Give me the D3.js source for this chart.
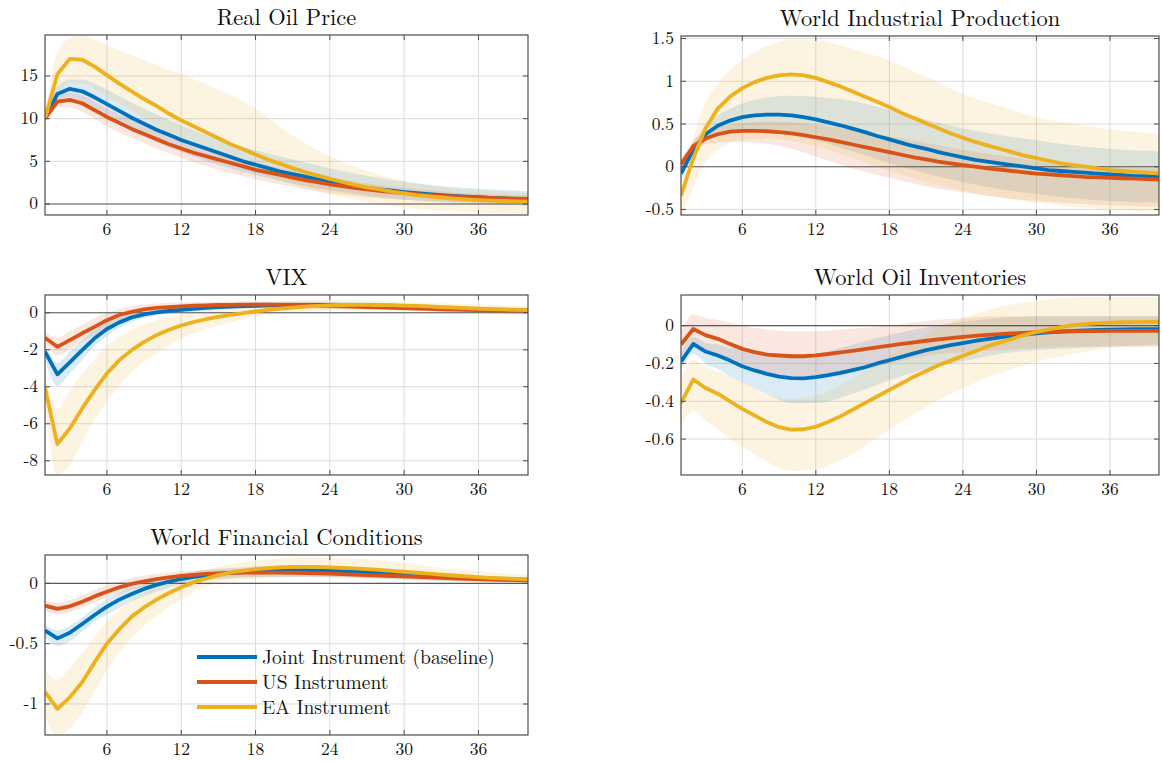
<!DOCTYPE html>
<html><head><meta charset="utf-8">
<script src="https://cdn.jsdelivr.net/npm/d3@7"></script>
<style>
body{margin:0;background:#fff;}
svg{display:block;}
</style>
</head><body>
<svg id="chart" width="1162" height="762"></svg>
<script>
// ---------- DATA ----------
const horizons = d3.range(1, 41);
const bandHorizons = [1,2,3,4,5,6,8,10,12,15,18,21,24,27,30,33,36,40];
const xTicks = [6,12,18,24,30,36];
const seriesNames = ["Joint Instrument (baseline)", "US Instrument", "EA Instrument"];

// Real Oil Price
const oilJoint = [10,12.9,13.5,13.2,12.5,11.7,10.9,10.1,9.4,8.7,8.1,7.5,7.0,6.5,6.0,5.5,5.0,4.6,4.2,3.8,3.5,3.2,2.9,2.6,2.35,2.1,1.9,1.7,1.55,1.4,1.28,1.16,1.05,0.95,0.87,0.8,0.72,0.65,0.58,0.52];
const oilUS = [10,12.0,12.2,11.8,11.0,10.2,9.5,8.8,8.2,7.6,7.0,6.5,6.0,5.6,5.2,4.8,4.4,4.0,3.7,3.4,3.1,2.8,2.55,2.3,2.1,1.9,1.7,1.55,1.4,1.27,1.15,1.05,0.96,0.88,0.81,0.75,0.7,0.66,0.62,0.6];
const oilEA = [10,15.2,17.0,16.9,16.1,15.1,14.1,13.2,12.3,11.5,10.6,9.8,9.1,8.4,7.7,7.0,6.4,5.8,5.2,4.7,4.2,3.75,3.35,2.95,2.6,2.25,1.95,1.7,1.45,1.25,1.05,0.9,0.76,0.64,0.54,0.46,0.4,0.35,0.31,0.28];
const oilJointLo = [10,12.2,12.5,12.0,11.2,10.3,8.7,7.3,6.1,4.6,3.4,2.4,1.6,1.0,0.5,0.2,0.0,-0.2];
const oilJointHi = [10,13.7,14.6,14.6,14.1,13.4,11.9,10.5,9.2,7.6,6.3,5.2,4.2,3.3,2.6,2.1,1.8,1.5];
const oilUSLo = [10,11.4,11.3,10.8,10.0,9.1,7.7,6.5,5.4,4.0,2.9,2.0,1.3,0.8,0.5,0.3,0.2,0.1];
const oilUSHi = [10,12.6,13.0,12.7,12.0,11.2,9.8,8.5,7.4,6.0,4.9,3.9,3.1,2.4,1.9,1.5,1.2,1.0];
const oilEALo = [10,12.8,14.2,14.2,13.5,12.6,10.9,9.2,7.6,5.6,3.8,2.3,1.1,0.2,-0.4,-0.8,-1.0,-1.2];
const oilEAHi = [10,17.8,19.4,19.7,19.3,18.6,17.4,16.3,15.2,13.4,11.2,8.0,5.6,3.9,2.7,2.0,1.6,1.3];

// World Industrial Production
const ipJoint = [-0.08,0.2,0.38,0.48,0.54,0.58,0.6,0.61,0.61,0.6,0.58,0.555,0.52,0.485,0.445,0.405,0.36,0.32,0.28,0.24,0.21,0.17,0.14,0.11,0.08,0.06,0.04,0.02,0.0,-0.02,-0.04,-0.05,-0.06,-0.07,-0.08,-0.09,-0.1,-0.11,-0.11,-0.12];
const ipUS = [0.03,0.24,0.33,0.38,0.41,0.42,0.42,0.415,0.405,0.39,0.37,0.345,0.32,0.29,0.26,0.23,0.2,0.17,0.14,0.11,0.085,0.06,0.04,0.02,0.0,-0.02,-0.035,-0.05,-0.065,-0.08,-0.09,-0.1,-0.11,-0.12,-0.125,-0.13,-0.135,-0.14,-0.145,-0.15];
const ipEA = [-0.34,0.1,0.45,0.68,0.82,0.92,0.99,1.04,1.07,1.08,1.07,1.04,0.99,0.94,0.88,0.82,0.76,0.7,0.63,0.57,0.51,0.45,0.39,0.34,0.29,0.25,0.21,0.17,0.13,0.1,0.07,0.04,0.02,0.0,-0.02,-0.04,-0.05,-0.06,-0.07,-0.08];
const ipJointLo = [-0.14,0.12,0.29,0.36,0.4,0.42,0.42,0.38,0.31,0.18,0.04,-0.08,-0.18,-0.26,-0.32,-0.37,-0.4,-0.42];
const ipJointHi = [-0.03,0.28,0.47,0.6,0.68,0.74,0.81,0.83,0.82,0.77,0.67,0.55,0.45,0.37,0.31,0.25,0.21,0.18];
const ipUSLo = [-0.02,0.18,0.26,0.28,0.29,0.29,0.27,0.21,0.12,-0.02,-0.13,-0.23,-0.3,-0.36,-0.4,-0.43,-0.45,-0.47];
const ipUSHi = [0.08,0.3,0.4,0.46,0.49,0.51,0.53,0.52,0.49,0.43,0.36,0.28,0.2,0.13,0.07,0.03,0.0,-0.02];
const ipEALo = [-0.6,-0.25,0.05,0.2,0.28,0.32,0.33,0.3,0.24,0.1,-0.05,-0.18,-0.28,-0.36,-0.42,-0.47,-0.5,-0.53];
const ipEAHi = [-0.1,0.35,0.75,0.97,1.13,1.25,1.41,1.49,1.48,1.38,1.24,1.05,0.85,0.71,0.58,0.5,0.44,0.39];

// VIX
const vixJoint = [-2.1,-3.33,-2.68,-2.02,-1.38,-0.88,-0.52,-0.25,-0.09,0.02,0.1,0.16,0.21,0.26,0.3,0.33,0.36,0.38,0.4,0.41,0.42,0.42,0.42,0.41,0.4,0.39,0.37,0.35,0.33,0.31,0.29,0.27,0.25,0.23,0.21,0.19,0.17,0.15,0.14,0.13];
const vixUS = [-1.35,-1.84,-1.48,-1.11,-0.76,-0.4,-0.12,0.05,0.18,0.26,0.31,0.35,0.38,0.4,0.42,0.43,0.44,0.44,0.44,0.43,0.42,0.41,0.39,0.37,0.35,0.33,0.31,0.29,0.27,0.25,0.23,0.21,0.19,0.17,0.16,0.14,0.13,0.12,0.11,0.1];
const vixEA = [-4.05,-7.1,-6.25,-5.17,-4.18,-3.28,-2.56,-2.02,-1.57,-1.21,-0.92,-0.69,-0.5,-0.35,-0.22,-0.11,-0.02,0.07,0.15,0.22,0.28,0.33,0.37,0.4,0.42,0.43,0.43,0.42,0.41,0.39,0.37,0.34,0.31,0.28,0.25,0.22,0.2,0.18,0.16,0.14];
const vixJointLo = [-2.5,-3.95,-3.3,-2.55,-1.8,-1.25,-0.5,-0.15,0.0,0.15,0.25,0.27,0.25,0.22,0.18,0.12,0.06,0.0];
const vixJointHi = [-1.7,-2.7,-2.1,-1.5,-0.95,-0.55,-0.05,0.15,0.3,0.45,0.55,0.6,0.6,0.55,0.48,0.4,0.33,0.26];
const vixUSLo = [-1.7,-2.3,-1.95,-1.55,-1.2,-0.8,-0.25,0.0,0.15,0.25,0.27,0.25,0.22,0.18,0.12,0.06,0.01,-0.04];
const vixUSHi = [-1.0,-1.35,-1.0,-0.65,-0.3,0.0,0.35,0.5,0.55,0.6,0.62,0.6,0.55,0.48,0.41,0.35,0.29,0.24];
const vixEALo = [-4.8,-8.8,-8.2,-7.0,-5.8,-4.8,-3.2,-2.2,-1.4,-0.7,-0.2,0.0,0.12,0.15,0.12,0.06,0.0,-0.05];
const vixEAHi = [-3.3,-5.2,-4.2,-3.3,-2.5,-1.8,-0.9,-0.4,-0.1,0.25,0.5,0.65,0.7,0.68,0.6,0.52,0.45,0.35];

// World Oil Inventories
const invJoint = [-0.19,-0.097,-0.137,-0.158,-0.185,-0.215,-0.237,-0.255,-0.27,-0.278,-0.279,-0.272,-0.262,-0.25,-0.235,-0.22,-0.2,-0.183,-0.165,-0.147,-0.13,-0.116,-0.103,-0.092,-0.081,-0.071,-0.062,-0.054,-0.047,-0.041,-0.036,-0.032,-0.028,-0.025,-0.023,-0.021,-0.02,-0.019,-0.018,-0.018];
const invUS = [-0.1,-0.018,-0.05,-0.07,-0.097,-0.123,-0.14,-0.153,-0.158,-0.162,-0.162,-0.157,-0.15,-0.142,-0.133,-0.124,-0.115,-0.106,-0.097,-0.088,-0.08,-0.073,-0.066,-0.06,-0.054,-0.049,-0.045,-0.041,-0.038,-0.035,-0.033,-0.031,-0.03,-0.029,-0.029,-0.028,-0.028,-0.028,-0.028,-0.028];
const invEA = [-0.41,-0.285,-0.33,-0.36,-0.4,-0.44,-0.475,-0.51,-0.537,-0.55,-0.548,-0.535,-0.51,-0.48,-0.445,-0.41,-0.375,-0.34,-0.305,-0.27,-0.24,-0.21,-0.185,-0.16,-0.135,-0.11,-0.09,-0.07,-0.05,-0.033,-0.02,-0.008,0.002,0.008,0.013,0.016,0.018,0.019,0.02,0.02];
const invJointLo = [-0.24,-0.15,-0.2,-0.23,-0.27,-0.3,-0.36,-0.41,-0.41,-0.36,-0.29,-0.23,-0.19,-0.15,-0.13,-0.12,-0.11,-0.1];
const invJointHi = [-0.15,-0.06,-0.09,-0.1,-0.12,-0.13,-0.15,-0.16,-0.15,-0.1,-0.05,-0.01,0.02,0.04,0.05,0.05,0.05,0.05];
const invUSLo = [-0.17,-0.1,-0.13,-0.15,-0.18,-0.2,-0.25,-0.28,-0.28,-0.25,-0.2,-0.16,-0.14,-0.13,-0.12,-0.11,-0.11,-0.11];
const invUSHi = [-0.03,0.06,0.04,0.03,0.015,0.0,-0.02,-0.03,-0.03,-0.015,0.0,0.025,0.04,0.05,0.05,0.05,0.05,0.05];
const invEALo = [-0.53,-0.45,-0.5,-0.55,-0.6,-0.64,-0.72,-0.77,-0.76,-0.68,-0.55,-0.43,-0.33,-0.25,-0.19,-0.15,-0.12,-0.11];
const invEAHi = [-0.28,-0.18,-0.22,-0.24,-0.27,-0.3,-0.36,-0.39,-0.37,-0.28,-0.16,-0.05,0.04,0.1,0.13,0.15,0.15,0.15];

// World Financial Conditions
const finJoint = [-0.39,-0.456,-0.41,-0.337,-0.262,-0.193,-0.135,-0.088,-0.046,-0.013,0.014,0.036,0.053,0.067,0.078,0.087,0.094,0.099,0.103,0.106,0.107,0.107,0.106,0.104,0.101,0.097,0.093,0.088,0.083,0.077,0.071,0.065,0.06,0.054,0.049,0.044,0.04,0.036,0.032,0.029];
const finUS = [-0.185,-0.212,-0.19,-0.152,-0.108,-0.069,-0.033,-0.005,0.017,0.036,0.05,0.062,0.071,0.078,0.083,0.087,0.089,0.09,0.09,0.089,0.088,0.086,0.083,0.08,0.077,0.073,0.069,0.065,0.061,0.057,0.053,0.049,0.045,0.041,0.038,0.035,0.032,0.029,0.027,0.025];
const finEA = [-0.9,-1.04,-0.945,-0.82,-0.655,-0.5,-0.38,-0.276,-0.2,-0.135,-0.08,-0.033,0.008,0.04,0.068,0.09,0.105,0.118,0.126,0.132,0.136,0.137,0.136,0.133,0.129,0.124,0.118,0.111,0.104,0.096,0.088,0.08,0.072,0.065,0.058,0.052,0.046,0.041,0.037,0.034];
const finJointLo = [-0.44,-0.52,-0.48,-0.4,-0.32,-0.26,-0.15,-0.07,-0.01,0.03,0.05,0.05,0.05,0.04,0.03,0.02,0.015,0.01];
const finJointHi = [-0.34,-0.39,-0.35,-0.28,-0.2,-0.13,-0.035,0.03,0.08,0.12,0.14,0.15,0.14,0.13,0.1,0.08,0.06,0.05];
const finUSLo = [-0.23,-0.26,-0.24,-0.2,-0.16,-0.12,-0.055,-0.01,0.025,0.045,0.055,0.06,0.05,0.045,0.04,0.025,0.015,0.01];
const finUSHi = [-0.14,-0.16,-0.14,-0.1,-0.055,-0.015,0.045,0.08,0.1,0.115,0.12,0.12,0.11,0.1,0.08,0.06,0.05,0.04];
const finEALo = [-1.1,-1.27,-1.2,-1.07,-0.9,-0.72,-0.45,-0.27,-0.13,0.0,0.04,0.05,0.06,0.05,0.03,0.02,0.01,0.0];
const finEAHi = [-0.72,-0.8,-0.7,-0.58,-0.44,-0.32,-0.14,-0.03,0.05,0.14,0.19,0.21,0.21,0.2,0.17,0.13,0.1,0.07];

// Tick values per panel
const oilTicks = [0,5,10,15];
const ipTicks = [-0.5,0,0.5,1,1.5];
const vixTicks = [-8,-6,-4,-2,0];
const invTicks = [-0.6,-0.4,-0.2,0];
const finTicks = [-1,-0.5,0];

// ---------- LAYOUT / STYLE ----------
const colors = ["#0072BD", "#D95319", "#EDB120"];
const fontFam = "'Latin Modern Roman', 'CMU Serif', 'Liberation Serif', serif";
const panels = [
  {title:"Real Oil Price", means:[oilJoint,oilUS,oilEA], lo:[oilJointLo,oilUSLo,oilEALo], hi:[oilJointHi,oilUSHi,oilEAHi], ticks:oilTicks, yDom:[-1.29,19.8], box:{l:45,r:528,t:35,b:215}},
  {title:"World Industrial Production", means:[ipJoint,ipUS,ipEA], lo:[ipJointLo,ipUSLo,ipEALo], hi:[ipJointHi,ipUSHi,ipEAHi], ticks:ipTicks, yDom:[-0.565,1.53], box:{l:681,r:1159,t:36,b:215}},
  {title:"VIX", means:[vixJoint,vixUS,vixEA], lo:[vixJointLo,vixUSLo,vixEALo], hi:[vixJointHi,vixUSHi,vixEAHi], ticks:vixTicks, yDom:[-8.77,0.96], box:{l:45,r:528,t:295,b:475}},
  {title:"World Oil Inventories", means:[invJoint,invUS,invEA], lo:[invJointLo,invUSLo,invEALo], hi:[invJointHi,invUSHi,invEAHi], ticks:invTicks, yDom:[-0.79,0.162], box:{l:681,r:1159,t:295,b:475}},
  {title:"World Financial Conditions", means:[finJoint,finUS,finEA], lo:[finJointLo,finUSLo,finEALo], hi:[finJointHi,finUSHi,finEAHi], ticks:finTicks, yDom:[-1.257,0.235], box:{l:45,r:528,t:555,b:735}, legend:true}
];

const svg = d3.select("#chart");
const fmt = v => String(v).replace("\u2212","-");
const txt = (sel) => sel.attr("font-family", fontFam).attr("fill", "#111");

panels.forEach((p, pi) => {
  const b = p.box;
  const x = d3.scaleLinear().domain([1,40]).range([b.l,b.r]);
  const y = d3.scaleLinear().domain(p.yDom).range([b.b,b.t]);
  const g = svg.append("g");
  const clipId = "clip"+pi;
  g.append("clipPath").attr("id",clipId).append("rect")
    .attr("x",b.l).attr("y",b.t).attr("width",b.r-b.l).attr("height",b.b-b.t);

  // grid
  g.append("g").selectAll("line").data(xTicks).join("line")
    .attr("x1",d=>x(d)).attr("x2",d=>x(d)).attr("y1",b.t).attr("y2",b.b)
    .attr("stroke","#dcdcdc").attr("stroke-width",1);
  g.append("g").selectAll("line").data(p.ticks).join("line")
    .attr("x1",b.l).attr("x2",b.r).attr("y1",d=>y(d)).attr("y2",d=>y(d))
    .attr("stroke","#dcdcdc").attr("stroke-width",1);

  const plot = g.append("g").attr("clip-path",`url(#${clipId})`);
  // bands
  const area = d3.area().x((d,i)=>x(bandHorizons[i])).y0(d=>y(d[0])).y1(d=>y(d[1])).curve(d3.curveMonotoneX);
  [0,1,2].forEach(s => {
    const data = p.lo[s].map((v,i)=>[v,p.hi[s][i]]);
    plot.append("path").datum(data).attr("d",area)
      .attr("fill",colors[s]).attr("fill-opacity",0.14).attr("stroke","none");
  });
  // zero line
  plot.append("line").attr("x1",b.l).attr("x2",b.r).attr("y1",y(0)).attr("y2",y(0))
    .attr("stroke","#5a5a5a").attr("stroke-width",1.2);
  // mean lines
  const line = d3.line().x((d,i)=>x(horizons[i])).y(d=>y(d));
  [0,1,2].forEach(s => {
    plot.append("path").datum(p.means[s]).attr("d",line)
      .attr("fill","none").attr("stroke",colors[s]).attr("stroke-width",3.8)
      .attr("stroke-linejoin","round");
  });

  // box
  g.append("rect").attr("x",b.l).attr("y",b.t).attr("width",b.r-b.l).attr("height",b.b-b.t)
    .attr("fill","none").attr("stroke","#4d4d4d").attr("stroke-width",1.2);
  // ticks inward (all sides)
  const tl = 5;
  xTicks.forEach(t => {
    g.append("line").attr("x1",x(t)).attr("x2",x(t)).attr("y1",b.b).attr("y2",b.b-tl).attr("stroke","#4d4d4d");
    g.append("line").attr("x1",x(t)).attr("x2",x(t)).attr("y1",b.t).attr("y2",b.t+tl).attr("stroke","#4d4d4d");
  });
  p.ticks.forEach(t => {
    g.append("line").attr("x1",b.l).attr("x2",b.l+tl).attr("y1",y(t)).attr("y2",y(t)).attr("stroke","#4d4d4d");
    g.append("line").attr("x1",b.r).attr("x2",b.r-tl).attr("y1",y(t)).attr("y2",y(t)).attr("stroke","#4d4d4d");
  });
  // tick labels
  g.append("g").selectAll("text").data(xTicks).join("text")
    .attr("x",d=>x(d)).attr("y",b.b+20).attr("text-anchor","middle")
    .attr("font-size",17.5).call(txt).text(d=>d);
  g.append("g").selectAll("text").data(p.ticks).join("text")
    .attr("x",b.l-7).attr("y",d=>y(d)+5.5).attr("text-anchor","end")
    .attr("font-size",17.5).call(txt).text(d=>fmt(d));
  // title
  g.append("text").attr("x",(b.l+b.r)/2).attr("y",b.t-10).attr("text-anchor","middle")
    .attr("font-size",22.5).call(txt).text(p.title);

  if (p.legend) {
    const lg = g.append("g");
    const lx0 = 197, lx1 = 257, ly0 = 657, dy = 25;
    seriesNames.forEach((n,s) => {
      lg.append("line").attr("x1",lx0).attr("x2",lx1).attr("y1",ly0+s*dy).attr("y2",ly0+s*dy)
        .attr("stroke",colors[s]).attr("stroke-width",3.8);
      lg.append("text").attr("x",lx1+5).attr("y",ly0+s*dy+6.5).attr("font-size",19.5).call(txt).text(n);
    });
  }
});
</script>
</body></html>
